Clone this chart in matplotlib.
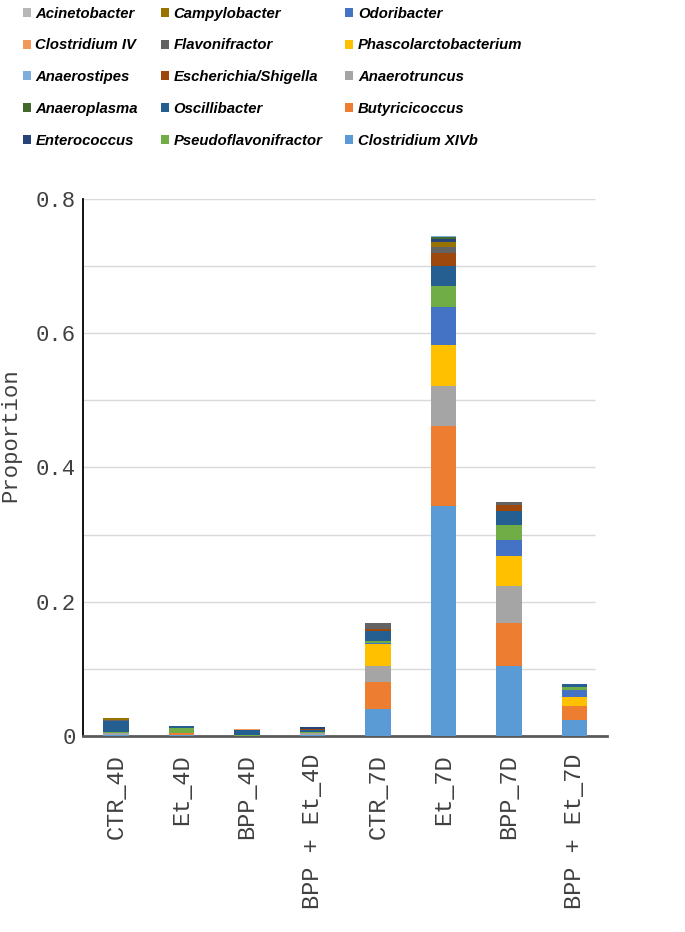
import matplotlib
matplotlib.use('Agg')
import matplotlib.pyplot as plt
from matplotlib import font_manager
from matplotlib.font_manager import FontProperties
import numpy as np

# sample groups (x axis)
groups = ['CTR_4D', 'Et_4D', 'BPP_4D', 'BPP + Et_4D',
          'CTR_7D', 'Et_7D', 'BPP_7D', 'BPP + Et_7D']

# genera, bottom of the stack first
genera = ['Clostridium XIVb', 'Butyricicoccus', 'Anaerotruncus',
          'Phascolarctobacterium', 'Odoribacter', 'Pseudoflavonifractor',
          'Oscillibacter', 'Escherichia/Shigella', 'Flavonifractor',
          'Campylobacter', 'Enterococcus', 'Anaeroplasma', 'Anaerostipes',
          'Clostridium IV', 'Acinetobacter']

clostridium_xivb = [0.001, 0.001, 0.000, 0.001, 0.040, 0.343, 0.104, 0.024]
butyricicoccus = [0.001, 0.003, 0.000, 0.001, 0.041, 0.119, 0.064, 0.020]
anaerotruncus = [0.002, 0.000, 0.000, 0.002, 0.023, 0.060, 0.055, 0.001]
phascolarctobacterium = [0.000, 0.000, 0.000, 0.000, 0.033, 0.060, 0.045, 0.013]
odoribacter = [0.000, 0.000, 0.000, 0.000, 0.002, 0.057, 0.024, 0.011]
pseudoflavonifractor = [0.002, 0.008, 0.001, 0.002, 0.002, 0.031, 0.022, 0.004]
oscillibacter = [0.016, 0.003, 0.008, 0.003, 0.015, 0.030, 0.021, 0.005]
escherichia = [0.001, 0.000, 0.000, 0.001, 0.003, 0.019, 0.009, 0.000]
flavonifractor = [0.001, 0.000, 0.000, 0.001, 0.010, 0.010, 0.004, 0.000]
campylobacter = [0.003, 0.000, 0.000, 0.000, 0.000, 0.007, 0.001, 0.000]
enterococcus = [0.000, 0.000, 0.000, 0.002, 0.000, 0.004, 0.000, 0.000]
anaeroplasma = [0.000, 0.000, 0.000, 0.000, 0.000, 0.003, 0.000, 0.000]
anaerostipes = [0.000, 0.000, 0.000, 0.000, 0.000, 0.002, 0.000, 0.000]
clostridium_iv = [0.000, 0.000, 0.001, 0.000, 0.000, 0.000, 0.000, 0.000]
acinetobacter = [0.000, 0.000, 0.000, 0.000, 0.000, 0.000, 0.000, 0.000]

values = [clostridium_xivb, butyricicoccus, anaerotruncus, phascolarctobacterium,
          odoribacter, pseudoflavonifractor, oscillibacter, escherichia,
          flavonifractor, campylobacter, enterococcus, anaeroplasma,
          anaerostipes, clostridium_iv, acinetobacter]

# excel office palette
colors = ['#5B9BD5', '#ED7D31', '#A5A5A5', '#FFC000', '#4472C4', '#70AD47',
          '#255E91', '#9E480E', '#636363', '#997300', '#264478', '#43682B',
          '#7CAFDD', '#F1975A', '#B7B7B7']

# fonts
names = {f.name for f in font_manager.fontManager.ttflist}
if 'Liberation Sans Narrow' in names:
    leg_font = FontProperties(family='Liberation Sans Narrow', style='italic',
                              weight='bold', size=12.5)
else:
    leg_font = FontProperties(family='Liberation Sans', style='italic',
                              weight='bold', size=10.7)
mono = 'Liberation Mono'
text_color = '#404040'

fig = plt.figure(figsize=(6.85, 9.32), dpi=100)
ax = fig.add_axes([0.1212, 0.2103, 0.7650, 0.5762])

x = np.arange(len(groups))
bottom = np.zeros(len(groups))
bars = []
for name, vals, c in zip(genera, values, colors):
    b = ax.bar(x, vals, 0.39, bottom=bottom, color=c, label=name, zorder=3)
    bars.append(b)
    bottom += np.array(vals)

ax.set_xlim(-0.5, len(groups) - 0.5)
ax.set_ylim(0, 0.8)

# light grid every 0.1, labels every 0.2
for yv in np.arange(0.1, 0.81, 0.1):
    ax.hlines(yv, 0, 0.977, transform=ax.get_yaxis_transform(),
              color='#D9D9D9', linewidth=1.0, zorder=1)

ax.set_yticks([0, 0.2, 0.4, 0.6, 0.8])
ax.set_yticklabels(['0', '0.2', '0.4', '0.6', '0.8'])
ax.set_xticks(x)
ax.set_xticklabels(groups, rotation=90, va='top', ha='center')
ax.tick_params(axis='both', length=0, labelcolor=text_color)
ax.tick_params(axis='y', pad=5, labelsize=16)
ax.tick_params(axis='x', pad=13, labelsize=17)
for lab in ax.get_xticklabels() + ax.get_yticklabels():
    lab.set_family(mono)

ax.set_ylabel('Proportion', fontsize=16, family=mono, color=text_color)
ax.yaxis.set_label_coords(-0.117, 0.56)

for s in ['top', 'right']:
    ax.spines[s].set_visible(False)
ax.spines['left'].set_color('black')
ax.spines['left'].set_linewidth(1.3)
ax.spines['bottom'].set_color('#595959')
ax.spines['bottom'].set_linewidth(2.0)

handles = [b[0] for b in bars][::-1]
labels = genera[::-1]
fig.legend(handles, labels, ncol=3, loc='upper left',
           bbox_to_anchor=(0.033, 0.993), frameon=False, prop=leg_font,
           handlelength=0.55, handleheight=0.55, handletextpad=0.3,
           columnspacing=1.55, labelspacing=1.2, borderpad=0,
           borderaxespad=0)

fig.savefig('out.png', dpi=100)
